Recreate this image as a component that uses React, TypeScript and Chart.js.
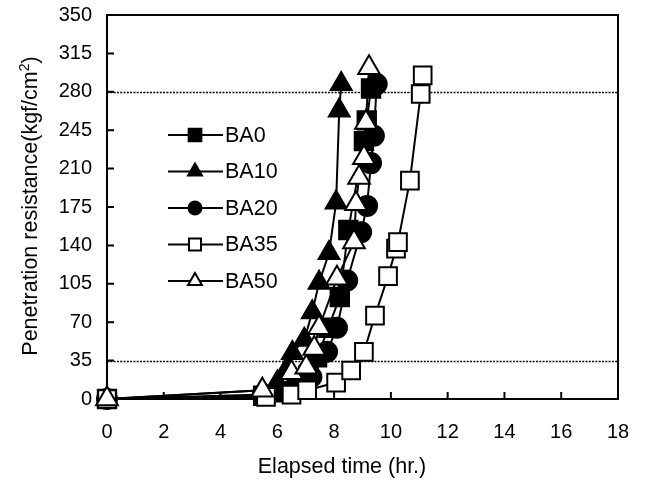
import React, { useEffect, useRef } from "react";
import { Chart, registerables } from "chart.js";

Chart.register(...registerables);

const ba0Time = [0, 5.5, 6.3, 6.8, 7.1, 7.4, 7.8, 8.2, 8.5, 9.05, 9.15, 9.3];
const ba0Values = [0, 3, 6, 12, 22, 38, 65, 93, 154, 235, 254, 283];

const ba10Time = [0, 5.47, 6.0, 6.35, 6.53, 6.95, 7.23, 7.47, 7.82, 8.07, 8.18, 8.25];
const ba10Values = [0, 8, 15, 28, 42, 54, 79, 106, 133, 179, 263, 287];

const ba20Time = [0, 5.5, 6.5, 7.2, 7.75, 8.1, 8.46, 8.95, 9.16, 9.3, 9.4, 9.5];
const ba20Values = [0, 4, 8, 20, 43, 65, 108, 152, 176, 215, 240, 287];

const ba35Time = [0, 5.6, 6.5, 7.05, 8.07, 8.6, 9.05, 9.44, 9.9, 10.18, 10.25, 10.67, 11.05, 11.12];
const ba35Values = [0, 2, 4, 8, 15, 26, 43, 76, 112, 137, 143, 199, 278, 295];

const ba50Time = [0, 5.47, 6.5, 7.02, 7.3, 7.47, 8.1, 8.7, 8.77, 8.88, 9.05, 9.12, 9.23];
const ba50Values = [0, 8, 24, 29, 46, 65, 110, 143, 178, 202, 220, 252, 302];

const seriesNames = ["BA0", "BA10", "BA20", "BA35", "BA50"];
const xTicks = [0, 2, 4, 6, 8, 10, 12, 14, 16, 18];
const yTicks = [0, 35, 70, 105, 140, 175, 210, 245, 280, 315, 350];
const refLines = [35, 280];
const xTitle = "Elapsed time (hr.)";
const yTitleMain = "Penetration resistance(kgf/cm";
const yTitleSup = "2";
const yTitleEnd = ")";

const FONT = "'Liberation Sans', Arial, sans-serif";
const TICK_FS = 20;
const TEXT_FS = 21.5;
const SUP_FS = 14;

function pts(xs: number[], ys: number[]) {
  return xs.map((x, i) => ({ x, y: ys[i] }));
}

const styles = [
  { pointStyle: "rect", fill: "#000", r: 13, lr: 9 },
  { pointStyle: "triangle", fill: "#000", r: 12, lr: 8 },
  { pointStyle: "circle", fill: "#000", r: 10, lr: 6.5 },
  { pointStyle: "rect", fill: "#fff", r: 12.5, lr: 8.5 },
  { pointStyle: "triangle", fill: "#fff", r: 12.5, lr: 8 },
];

function drawMarker(ctx: CanvasRenderingContext2D, style: string, cx: number, cy: number, r: number, fill: string) {
  ctx.beginPath();
  if (style === "rect") {
    const s = Math.SQRT1_2 * r;
    ctx.rect(cx - s, cy - s, 2 * s, 2 * s);
  } else if (style === "triangle") {
    ctx.moveTo(cx, cy - r);
    ctx.lineTo(cx + Math.sin(Math.PI * 2 / 3) * r, cy + r / 2);
    ctx.lineTo(cx - Math.sin(Math.PI * 2 / 3) * r, cy + r / 2);
    ctx.closePath();
  } else {
    ctx.arc(cx, cy, r, 0, Math.PI * 2);
  }
  ctx.fillStyle = fill;
  ctx.fill();
  ctx.strokeStyle = "#000";
  ctx.lineWidth = 2;
  ctx.stroke();
}

const decorPlugin = {
  id: "decor",
  beforeDatasetsDraw(chart: any) {
    const { ctx, chartArea: a, scales } = chart;
    const y = scales.y;
    ctx.save();
    ctx.strokeStyle = "#000";
    ctx.lineWidth = 1.5;
    ctx.setLineDash([2, 1.3]);
    refLines.forEach((v) => {
      const py = Math.round(y.getPixelForValue(v)) + 0.5;
      ctx.beginPath();
      ctx.moveTo(a.left, py);
      ctx.lineTo(a.right, py);
      ctx.stroke();
    });
    ctx.restore();

    ctx.save();
    ctx.strokeStyle = "#000";
    ctx.lineWidth = 2;
    ctx.strokeRect(a.left, a.top, a.right - a.left, a.bottom - a.top);
    const x = scales.x;
    const tl = 7;
    ctx.beginPath();
    xTicks.forEach((v) => {
      const px = x.getPixelForValue(v);
      ctx.moveTo(px, a.bottom);
      ctx.lineTo(px, a.bottom - tl);
    });
    yTicks.forEach((v) => {
      const py = y.getPixelForValue(v);
      ctx.moveTo(a.left, py);
      ctx.lineTo(a.left + tl, py);
    });
    ctx.stroke();

    // legend
    const rows = [135, 171.5, 208, 244.5, 281];
    ctx.font = `${TEXT_FS}px ${FONT}`;
    ctx.textBaseline = "middle";
    ctx.textAlign = "left";
    seriesNames.forEach((name, i) => {
      const ry = rows[i];
      ctx.lineWidth = 2;
      ctx.strokeStyle = "#000";
      ctx.beginPath();
      ctx.moveTo(168, ry);
      ctx.lineTo(223, ry);
      ctx.stroke();
      const s = styles[i];
      drawMarker(ctx, s.pointStyle, 195, ry, s.lr, s.fill);
      ctx.fillStyle = "#000";
      ctx.fillText(name, 225, ry + 1);
    });

    // axis titles
    ctx.fillStyle = "#000";
    ctx.font = `${TEXT_FS}px ${FONT}`;
    ctx.textAlign = "center";
    ctx.textBaseline = "middle";
    ctx.fillText(xTitle, 342, 467);

    ctx.save();
    ctx.translate(29, 206);
    ctx.rotate(-Math.PI / 2);
    ctx.textAlign = "left";
    ctx.textBaseline = "alphabetic";
    ctx.font = `${TEXT_FS}px ${FONT}`;
    const w1 = ctx.measureText(yTitleMain).width;
    ctx.font = `${SUP_FS}px ${FONT}`;
    const w2 = ctx.measureText(yTitleSup).width;
    ctx.font = `${TEXT_FS}px ${FONT}`;
    const w3 = ctx.measureText(yTitleEnd).width;
    const total = w1 + w2 + w3;
    let sx = -total / 2;
    const base = 7.5;
    ctx.fillText(yTitleMain, sx, base);
    sx += w1;
    ctx.font = `${SUP_FS}px ${FONT}`;
    ctx.fillText(yTitleSup, sx, base - 8);
    sx += w2;
    ctx.font = `${TEXT_FS}px ${FONT}`;
    ctx.fillText(yTitleEnd, sx, base);
    ctx.restore();
    ctx.restore();
  },
};

export default function App() {
  const ref = useRef<HTMLCanvasElement | null>(null);
  useEffect(() => {
    if (!ref.current) return;
    const allData = [
      pts(ba0Time, ba0Values),
      pts(ba10Time, ba10Values),
      pts(ba20Time, ba20Values),
      pts(ba35Time, ba35Values),
      pts(ba50Time, ba50Values),
    ];
    const chart = new Chart(ref.current, {
      type: "scatter",
      data: {
        datasets: allData.map((d, i) => ({
          label: seriesNames[i],
          data: d,
          showLine: true,
          clip: false as any,
          borderColor: "#000",
          borderWidth: 2,
          backgroundColor: styles[i].fill,
          pointStyle: styles[i].pointStyle as any,
          pointRadius: styles[i].r,
          pointBorderWidth: 2,
          pointBorderColor: "#000",
          pointBackgroundColor: styles[i].fill,
          order: 5 - i,
        })),
      },
      options: {
        responsive: false,
        animation: false,
        events: [],
        layout: { padding: { top: 14, right: 27, left: 0, bottom: 0 } },
        plugins: { legend: { display: false }, tooltip: { enabled: false } },
        scales: {
          x: {
            type: "linear",
            min: 0,
            max: 18,
            afterFit: (s: any) => {
              s.height = 81;
              s.paddingLeft = 0;
              s.paddingRight = 0;
            },
            afterBuildTicks: (s: any) => {
              s.ticks = xTicks.map((v) => ({ value: v }));
            },
            grid: { display: false, drawTicks: false },
            border: { display: false },
            ticks: {
              padding: 21,
              color: "#000",
              font: { family: FONT, size: TICK_FS },
              maxRotation: 0,
              autoSkip: false,
            },
          },
          y: {
            type: "linear",
            min: 0,
            max: 350,
            afterFit: (s: any) => {
              s.width = 107;
              s.paddingTop = 0;
              s.paddingBottom = 0;
            },
            afterBuildTicks: (s: any) => {
              s.ticks = yTicks.map((v) => ({ value: v }));
            },
            grid: { display: false, drawTicks: false },
            border: { display: false },
            ticks: {
              padding: 15,
              color: "#000",
              font: { family: FONT, size: TICK_FS },
              autoSkip: false,
            },
          },
        },
      },
      plugins: [decorPlugin],
    });
    return () => chart.destroy();
  }, []);
  return (
    <div style={{ position: "fixed", left: 0, top: 0, width: 645, height: 480, background: "#fff" }}>
      <canvas ref={ref} width={645} height={480} style={{ display: "block" }} />
    </div>
  );
}
